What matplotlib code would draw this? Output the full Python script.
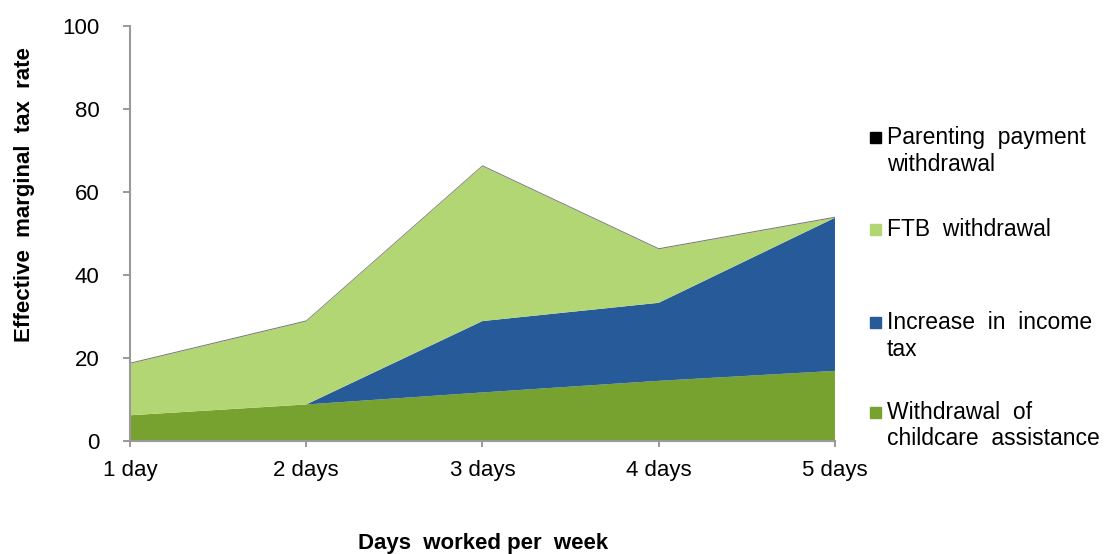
import matplotlib.pyplot as plt
from matplotlib.patches import Rectangle

plt.rcParams['font.family'] = ['Liberation Sans', 'DejaVu Sans']

# 数据
days = ['1 day', '2 days', '3 days', '4 days', '5 days']
childcare = [6.2, 8.8, 11.7, 14.5, 16.9]
income_tax = [0.0, 0.0, 17.2, 18.8, 36.9]
ftb = [12.4, 20.0, 37.3, 12.9, 0.0]
parenting = [0.25, 0.25, 0.25, 0.25, 0.25]

labels = ['Withdrawal  of\nchildcare  assistance', 'Increase  in  income\ntax',
          'FTB  withdrawal', 'Parenting  payment\nwithdrawal']
colors = ['#78a22f', '#265a98', '#b3d675', '#777777']

fig = plt.figure(figsize=(11.2, 5.54), dpi=100)
ax = fig.add_axes([0.116, 0.204, 0.6295, 0.749])

x = list(range(len(days)))
ax.stackplot(x, childcare, income_tax, ftb, parenting, colors=colors, linewidth=0)

ax.set_xlim(0, len(days) - 1)
ax.set_ylim(0, 100)
ax.set_yticks([0, 20, 40, 60, 80, 100])
ax.set_xticks(x)
ax.set_xticklabels(days)
ax.tick_params(axis='both', labelsize=16, color='#888888', length=5, width=1.2)
ax.tick_params(axis='x', pad=10, length=4)
ax.tick_params(axis='y', pad=17)

for s in ['top', 'right']:
    ax.spines[s].set_visible(False)
for s in ['left', 'bottom']:
    ax.spines[s].set_color('#999999')
    ax.spines[s].set_linewidth(1.5)

ax.set_ylabel('Effective  marginal  tax  rate', fontsize=16, fontweight='bold')
ax.yaxis.set_label_coords(-0.134, 0.593)
fig.text(483 / 1120, 5 / 554, 'Days  worked per  week', fontsize=16, fontweight='bold',
         ha='center', va='baseline')

# 图例（手动放置）
legend_y = [0.751, 0.585, 0.417, 0.255]  # figure coords of first line
order = [3, 2, 1, 0]
for yy, i in zip(legend_y, order):
    fig.add_artist(Rectangle((870 / 1120, yy - 5.5 / 554), 11 / 1120, 11 / 554,
                             transform=fig.transFigure, color='black' if i == 3 else colors[i]))
    fig.text(887 / 1120, yy + 12 / 554, labels[i], fontsize=16.5, va='top', ha='left',
             linespacing=1.2)

plt.savefig('out.png')
